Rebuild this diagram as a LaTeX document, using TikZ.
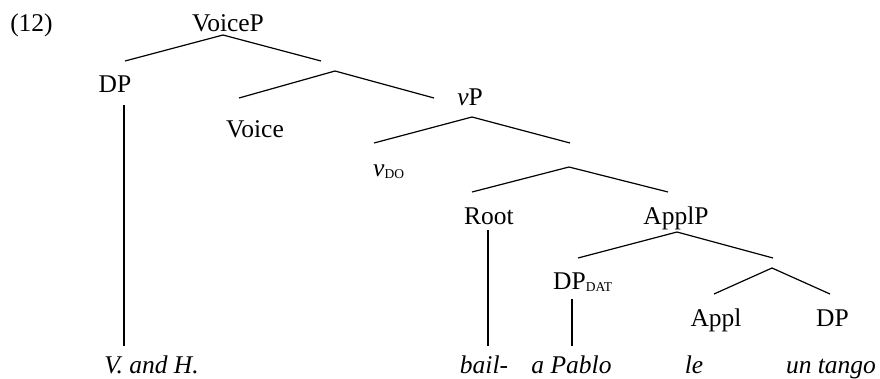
\documentclass[tikz,border=0pt]{standalone}
\usepackage{fontspec}
\setmainfont{Liberation Serif}
\newcommand\smallsub[1]{\raisebox{-2.5pt}{\fontsize{13.5}{14}\selectfont #1}}
\begin{document}
\begin{tikzpicture}[x=1pt,y=-1pt,
  lbl/.style={inner sep=0pt,anchor=base,font=\fontsize{25.5}{30}\selectfont},
  lblw/.style={lbl,anchor=base west},
  word/.style={lbl,font=\fontsize{25.5}{30}\selectfont\itshape},
  branch/.style={line width=1.2pt},
  stem/.style={line width=1.5pt}]
\useasboundingbox (0,0) rectangle (880,378);
% labels
\node[lbl] (ex) at (31.5,31.5) {(12)};
\node[lbl] (voicep) at (228,31.5) {VoiceP};
\node[lbl] (dp1) at (115,92) {DP};
\node[lbl] (voice) at (255,137) {Voice};
\node[lbl] (vp) at (470,105.5) {\textit{v}P};
\node[lblw] (vdo) at (373,176) {\textit{v}\smallsub{DO}};
\node[lbl] (root) at (489,224) {Root};
\node[lbl] (applp) at (676,224) {ApplP};
\node[lblw] (dpdat) at (553,289) {DP\smallsub{DAT}};
\node[lbl] (appl) at (716,326) {Appl};
\node[lbl] (dp2) at (832.5,326) {DP};
% words
\node[word] (vh) at (151.5,373) {V. and H.};
\node[word] (bail) at (484,373) {bail-};
\node[word] (pablo) at (571.5,373) {a Pablo};
\node[word] (le) at (694,373) {le};
\node[word] (tango) at (831,373) {un tango};
% branch points
\coordinate (a1) at (223,35);  \coordinate (a1l) at (125,61);  \coordinate (a1r) at (321,61);
\coordinate (a2) at (335,71);  \coordinate (a2l) at (239,98);  \coordinate (a2r) at (434,98);
\coordinate (a3) at (472,117); \coordinate (a3l) at (374,143); \coordinate (a3r) at (570,143);
\coordinate (a4) at (569,167); \coordinate (a4l) at (472,192); \coordinate (a4r) at (668,192);
\coordinate (a5) at (677,232); \coordinate (a5l) at (578,258); \coordinate (a5r) at (773,258);
\coordinate (a6) at (772,268); \coordinate (a6l) at (714,294); \coordinate (a6r) at (830,294);
\draw[branch] (a1l) -- (a1) -- (a1r);
\draw[branch] (a2l) -- (a2) -- (a2r);
\draw[branch] (a3l) -- (a3) -- (a3r);
\draw[branch] (a4l) -- (a4) -- (a4r);
\draw[branch] (a5l) -- (a5) -- (a5r);
\draw[branch] (a6l) -- (a6) -- (a6r);
% stems
\coordinate (s1t) at (124,105); \coordinate (s1b) at (124,346);
\coordinate (s2t) at (488,230); \coordinate (s2b) at (488,346);
\coordinate (s3t) at (572,299); \coordinate (s3b) at (572,346);
\draw[stem] (s1t) -- (s1b);
\draw[stem] (s2t) -- (s2b);
\draw[stem] (s3t) -- (s3b);
\end{tikzpicture}
\end{document}
